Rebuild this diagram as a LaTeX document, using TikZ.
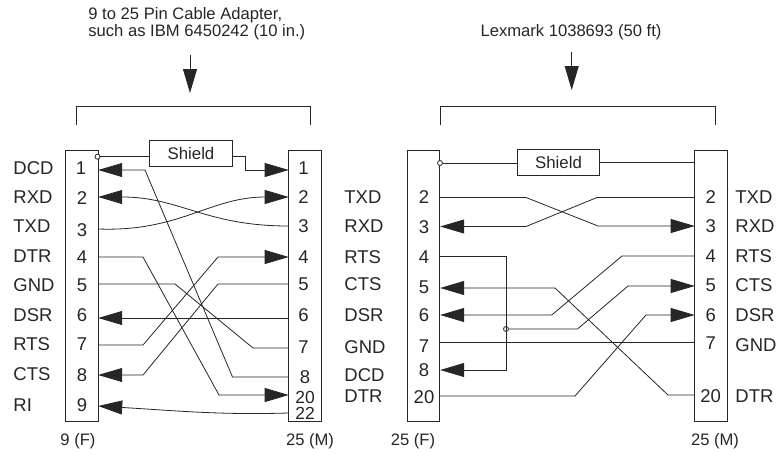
\documentclass[tikz,border=0pt]{standalone}
\usepackage{fontspec}
\setmainfont{Liberation Sans}
\usetikzlibrary{arrows.meta}

\begin{document}
\begin{tikzpicture}[x=1pt,y=-1pt,>={Triangle[length=24pt,width=14pt]},
			line width=0.8pt,color=black!85,
			conn/.style={draw,minimum width=32.5pt,minimum height=270.5pt,inner sep=0pt},
			shield/.style={draw,minimum width=82.5pt,minimum height=26.5pt,inner sep=0pt,font=\fontsize{16.8}{18}\selectfont},
			pin/.style={inner sep=0pt,font=\fontsize{18.5}{20}\selectfont},
			small pin/.style={inner sep=0pt,font=\fontsize{17.5}{18}\selectfont},
			sig/.style={anchor=west,inner sep=0pt,font=\fontsize{18.5}{20}\selectfont},
			note/.style={inner sep=0pt,font=\fontsize{16.6}{18}\selectfont},
			solder/.style={circle,draw,fill=white,minimum size=5pt,inner sep=0pt}]
			
			\useasboundingbox (0,0) rectangle (779,453);
			
			% titles and feed arrows
			\node[note,anchor=west] (T1) at (88,15) {9 to 25 Pin Cable Adapter,};
			\node[note,anchor=west] (T2) at (88,32) {such as IBM 6450242 (10 in.)};
			\node[note] (T3) at (571,32) {Lexmark 1038693 (50 ft)};
			\coordinate (P1) at (190,55);
			\coordinate (Q1) at (190,93);
			\coordinate (P2) at (571.7,52);
			\coordinate (Q2) at (571.7,90);
			\draw[->] (P1) -- (Q1);
			\draw[->] (P2) -- (Q2);
			\coordinate (L1) at (76,125);
			\coordinate (R1) at (310,125);
			\coordinate (L2) at (440.7,125);
			\coordinate (R2) at (715,125);
			\draw (L1) |- (190,106.5) -| (R1);
			\draw (L2) |- (571,106.5) -| (R2);
			
			% connectors
			\node[conn] (A) at (82,286) {};
			\node[conn] (B) at (305,286) {};
			\node[conn] (C) at (423.5,286) {};
			\node[conn] (D) at (710.7,286) {};
			\node[shield] (S1) at (191,153.5) {Shield};
			\node[shield] (S2) at (558.5,162.5) {Shield};
			
			% left pair, text
			\node[sig] (DCD) at (13,168) {DCD};
			\node[sig] (RXD) at (13,197) {RXD};
			\node[sig] (TXD) at (13,226) {TXD};
			\node[sig] (DTR) at (13,256) {DTR};
			\node[sig] (GND) at (13,285) {GND};
			\node[sig] (DSR) at (13,315) {DSR};
			\node[sig] (RTS) at (13,344) {RTS};
			\node[sig] (CTS) at (13,374) {CTS};
			\node[sig] (RI) at (13,405) {RI};
			\node[pin] (n1) at (81,168) {1};
			\node[pin] (n2) at (82,198) {2};
			\node[pin] (n3) at (82,230) {3};
			\node[pin] (n4) at (82,257) {4};
			\node[pin] (n5) at (82,285) {5};
			\node[pin] (n6) at (82,315) {6};
			\node[pin] (n7) at (82,344) {7};
			\node[pin] (n8) at (82,375) {8};
			\node[pin] (n9) at (82,405) {9};
			\node[pin] (m1) at (303.5,168) {1};
			\node[pin] (m2) at (303.5,197) {2};
			\node[pin] (m3) at (303.5,226) {3};
			\node[pin] (m4) at (303.5,257) {4};
			\node[pin] (m5) at (303.5,284) {5};
			\node[pin] (m6) at (303.5,315) {6};
			\node[pin] (m7) at (303.5,347) {7};
			\node[pin] (m8) at (305,377) {8};
			\node[small pin] (m20) at (305,397) {20};
			\node[small pin] (m22) at (305,413) {22};
			\node[sig] (TXDb) at (344,197) {TXD};
			\node[sig] (RXDb) at (344,226) {RXD};
			\node[sig] (RTSb) at (344,257) {RTS};
			\node[sig] (CTSb) at (344,284) {CTS};
			\node[sig] (DSRb) at (344,315) {DSR};
			\node[sig] (GNDb) at (344,347) {GND};
			\node[sig] (DCDb) at (344,375) {DCD};
			\node[sig] (DTRb) at (344,396) {DTR};
			\node[note] (F1) at (78,441) {9 (F)};
			\node[note] (M1) at (310,441) {25 (M)};
			
			% right pair, text
			\node[pin] (u2) at (424,197) {2};
			\node[pin] (u3) at (424,227) {3};
			\node[pin] (u4) at (424,257) {4};
			\node[pin] (u5) at (424,287) {5};
			\node[pin] (u6) at (424,315) {6};
			\node[pin] (u7) at (424,346) {7};
			\node[pin] (u8) at (424,370) {8};
			\node[pin] (u20) at (424,397) {20};
			\node[pin] (v2) at (710.7,197) {2};
			\node[pin] (v3) at (710.7,226) {3};
			\node[pin] (v4) at (710.7,256) {4};
			\node[pin] (v5) at (710.7,285) {5};
			\node[pin] (v6) at (710.7,315) {6};
			\node[pin] (v7) at (710.7,343) {7};
			\node[pin] (v20) at (710.7,396) {20};
			\node[sig] (TXDc) at (735,197) {TXD};
			\node[sig] (RXDc) at (735,226) {RXD};
			\node[sig] (RTSc) at (735,256) {RTS};
			\node[sig] (CTSc) at (735,285) {CTS};
			\node[sig] (DSRc) at (735,315) {DSR};
			\node[sig] (GNDc) at (735,345) {GND};
			\node[sig] (DTRc) at (735,396) {DTR};
			\node[note] (F2) at (413,441) {25 (F)};
			\node[note] (M2) at (715,441) {25 (M)};
			
			% ends of the wires
			\coordinate (a1) at (98.2,170);
			\coordinate (a2) at (98.2,197);
			\coordinate (a3) at (98.2,229);
			\coordinate (a4) at (98.2,257);
			\coordinate (a5) at (98.2,284);
			\coordinate (a6) at (98.2,318);
			\coordinate (a7) at (98.2,345);
			\coordinate (a8) at (98.2,375);
			\coordinate (a9) at (98.2,406);
			\coordinate (b1) at (288.7,170);
			\coordinate (b2) at (288.7,197);
			\coordinate (b3) at (288.7,226);
			\coordinate (b4) at (288.7,257);
			\coordinate (b5) at (288.7,284);
			\coordinate (b6) at (288.7,318);
			\coordinate (b7) at (288.7,348);
			\coordinate (b8) at (288.7,377);
			\coordinate (b20) at (288.7,395);
			\coordinate (b22) at (288.7,413);
			\coordinate (c2) at (440.2,197.5);
			\coordinate (c3) at (440.2,226.5);
			\coordinate (c4) at (440.2,256);
			\coordinate (c5) at (440.2,288);
			\coordinate (c6) at (440.2,315);
			\coordinate (c7) at (440.2,342);
			\coordinate (c8) at (440.2,370);
			\coordinate (c20) at (440.2,396);
			\coordinate (d2) at (694.7,197.5);
			\coordinate (d3) at (694.7,226);
			\coordinate (d4) at (694.7,256);
			\coordinate (d5) at (694.7,286);
			\coordinate (d6) at (694.7,315);
			\coordinate (d7) at (694.7,342);
			\coordinate (d20) at (694.7,395);
			\node[solder] (J1) at (97.5,156.7) {};
			\node[solder] (J2) at (440,163) {};
			\node[solder] (J3) at (506,329) {};
			
			% left cable
			\draw (J1) -- (J1 -| S1.west);
			\draw[->] (S1.east |- J1) -- (245,156.7) -- (245,170) -- (b1);
			\draw[<-] (a1) -- (145,170) -- (232.5,377) -- (b8);
			\draw[<-] (a2) .. controls (180,197) and (205,226) .. (b3);
			\draw[->] (a3) .. controls (180,232) and (210,197) .. (b2);
			\draw[->] (a4) -- (143,257) -- (219,395) -- (b20);
			\draw (a5) -- (175,284) -- (253,348) -- (b7);
			\draw[<-] (a6) -- (b6);
			\draw[->] (a7) -- (143,345) -- (218,257) -- (b4);
			\draw[<-] (a8) -- (143,375) -- (218,284) -- (b5);
			\draw[<-] (a9) .. controls (180,411) and (220,415) .. (b22);
			
			% right cable
			\draw (J2) -- (S2.west |- J2);
			\draw (S2.east) -- (S2.east -| D.west);
			\draw[->] (c2) -- (526,197.5) -- (598,226) -- (d3);
			\draw[<-] (c3) -- (526,226.5) -- (597,197.5) -- (d2);
			\draw[<-] (c8) -- (506,370) -- (506,256) -- (c4);
			\draw[<-] (c6) -- (551.7,315) -- (622,256) -- (d4);
			\draw[<-] (c5) -- (555,288) -- (668,395) -- (d20);
			\draw[->] (J3) -- (577.5,329) -- (628,286) -- (d5);
			\draw[->] (c20) -- (575,396) -- (646,315) -- (d6);
			\draw (c7) -- (d7);
		\end{tikzpicture}
\end{document}
